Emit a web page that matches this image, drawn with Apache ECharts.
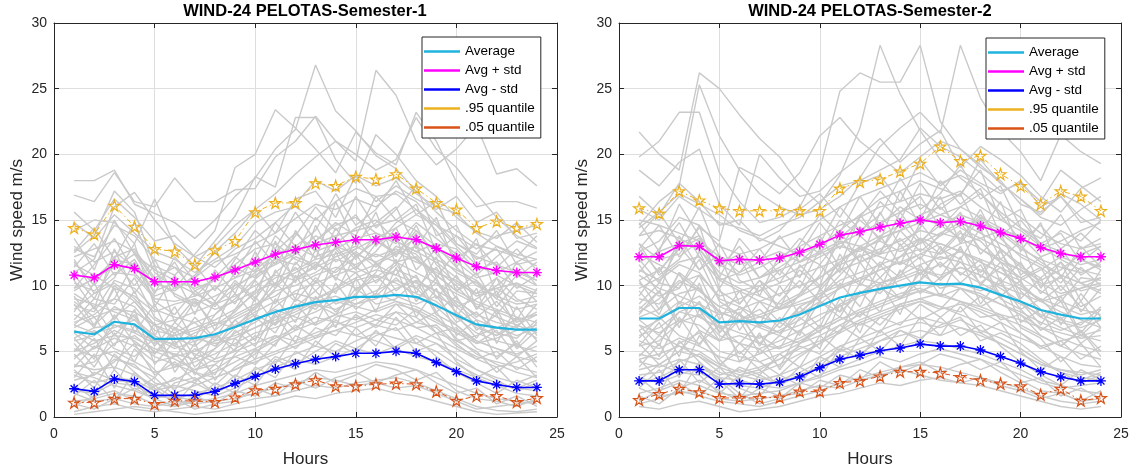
<!DOCTYPE html>
<html>
<head>
<meta charset="utf-8">
<script src="https://cdn.jsdelivr.net/npm/echarts/dist/echarts.min.js"></script>
<style>
html, body { margin: 0; padding: 0; background: #fff; }
#chart { width: 1137px; height: 473px; }
</style>
</head>
<body>
<div id="chart"></div>
<script>
var hours = [1,2,3,4,5,6,7,8,9,10,11,12,13,14,15,16,17,18,19,20,21,22,23,24];
var titles = ['WIND-24 PELOTAS-Semester-1', 'WIND-24 PELOTAS-Semester-2'];

// semester 1 summary curves
var avg1   = [6.5,6.3,7.25,7.05,5.95,5.95,6.0,6.3,6.85,7.45,8.0,8.4,8.75,8.9,9.15,9.15,9.3,9.15,8.5,7.75,7.05,6.8,6.65,6.65];
var plus1  = [10.8,10.6,11.6,11.3,10.3,10.3,10.3,10.65,11.2,11.8,12.4,12.75,13.1,13.3,13.5,13.5,13.7,13.5,12.85,12.1,11.45,11.15,11.0,11.0];
var minus1 = [2.15,1.95,2.9,2.7,1.65,1.65,1.65,1.95,2.55,3.1,3.65,4.05,4.4,4.6,4.85,4.85,5.0,4.85,4.15,3.45,2.75,2.45,2.25,2.25];
var q95_1  = [14.4,13.9,16.1,14.5,12.8,12.6,11.6,12.7,13.4,15.6,16.3,16.3,17.8,17.6,18.3,18.1,18.5,17.4,16.3,15.8,14.4,14.9,14.4,14.7];
var q05_1  = [1.1,1.1,1.4,1.4,1.0,1.25,1.2,1.15,1.5,2.05,2.15,2.5,2.8,2.35,2.35,2.5,2.55,2.5,1.95,1.25,1.6,1.6,1.15,1.45];

// semester 2 summary curves
var avg2   = [7.5,7.5,8.3,8.3,7.2,7.3,7.2,7.35,7.8,8.45,9.1,9.45,9.75,10.0,10.25,10.1,10.15,9.85,9.3,8.8,8.15,7.8,7.5,7.5];
var plus2  = [12.2,12.2,13.05,13.0,11.9,12.0,11.95,12.1,12.55,13.15,13.85,14.1,14.45,14.75,15.0,14.8,14.9,14.55,14.05,13.6,12.9,12.45,12.2,12.2];
var minus2 = [2.75,2.75,3.6,3.6,2.5,2.55,2.5,2.65,3.05,3.75,4.4,4.7,5.05,5.25,5.55,5.4,5.4,5.1,4.6,4.1,3.45,3.05,2.75,2.75];
var q95_2  = [15.9,15.5,17.2,16.5,15.9,15.7,15.7,15.7,15.7,15.7,17.4,17.9,18.1,18.7,19.3,20.6,19.5,19.9,18.5,17.6,16.2,17.2,16.8,15.7];
var q05_2  = [1.3,1.75,2.15,1.9,1.45,1.45,1.45,1.5,1.95,1.95,2.6,2.75,3.1,3.45,3.45,3.35,3.05,2.8,2.55,2.35,1.7,2.15,1.25,1.45];

// daily profiles (gray), semester 1
var days1 = [
  [18.0,18.0,18.8,16.2,15.5,14.8,13.6,15.0,16.8,18.2,20.4,21.9,26.8,23.3,21.8,19.9,18.9,17.2,15.6,14.2,13.1,12.7,12.2,11.5],
  [16.9,16.4,18.6,16.4,16.0,18.2,16.4,16.4,17.3,17.4,19.8,21.0,22.9,21.0,19.5,26.4,24.5,21.0,19.2,20.4,22.2,18.5,18.9,17.6],
  [12.5,13.8,17.2,15.6,11.5,10.8,12.4,14.2,19.0,20.0,23.4,22.0,20.4,18.6,21.7,20.1,19.2,23.2,21.0,17.9,16.0,16.4,16.4,15.9],
  [14.2,15.0,14.8,13.2,16.6,13.0,11.5,13.4,15.3,18.3,17.5,22.8,22.8,19.6,17.8,21.5,20.0,18.0,16.8,15.2,14.1,13.6,14.8,13.3],
  [9.8,10.5,12.0,11.6,10.2,9.6,10.8,12.6,14.0,15.8,17.0,18.5,19.8,21.0,20.0,18.8,19.6,22.8,20.4,19.0,17.0,15.2,13.8,12.9],
  [11.0,12.0,16.0,17.1,15.0,13.2,12.2,11.4,12.8,13.6,14.8,16.2,18.0,17.2,18.4,17.6,18.2,17.0,16.0,15.5,14.0,13.0,12.4,12.0],
  [12.8,12.2,14.6,13.8,12.0,11.4,10.6,11.8,12.4,13.2,14.0,15.1,16.2,15.8,16.6,16.0,17.2,16.4,14.8,13.2,12.2,11.6,11.0,10.4],
  [8.5,8.0,10.4,9.8,8.2,7.6,7.2,7.8,9.0,10.5,11.8,12.6,13.2,13.8,14.2,14.6,15.0,14.2,13.0,11.4,10.0,9.2,8.6,8.8],
  [10.2,9.6,11.0,10.8,9.0,8.8,9.2,9.8,10.6,11.2,12.4,13.0,12.2,12.8,13.6,14.0,13.4,12.6,11.8,10.6,9.4,9.8,10.2,9.6],
  [7.2,7.8,9.0,8.4,6.6,6.2,6.8,7.4,8.2,9.4,10.6,11.2,12.0,12.4,13.0,12.2,12.8,12.0,10.8,9.6,8.8,8.2,7.6,7.2],
  [13.0,11.8,12.6,11.4,9.6,10.2,9.4,8.6,9.8,11.0,12.0,11.6,13.4,14.6,15.2,14.0,13.2,14.8,13.6,12.4,10.8,12.2,13.4,12.8],
  [5.8,6.2,7.6,8.8,7.0,6.0,5.4,6.6,7.8,8.6,9.2,10.4,11.6,11.0,12.2,13.4,12.6,11.8,11.2,10.0,8.4,7.6,7.0,6.4],
  [9.0,8.6,8.0,7.4,5.8,5.6,6.4,7.0,7.6,8.4,9.6,10.0,10.8,11.4,11.0,11.6,12.4,13.0,12.0,11.2,10.4,9.0,8.2,8.6],
  [6.6,5.8,6.2,6.0,5.2,4.8,4.4,5.2,6.4,7.2,8.4,9.6,10.2,10.8,11.4,10.6,11.8,12.2,10.4,8.6,7.4,6.8,6.2,6.8],
  [4.6,5.2,6.0,5.4,4.2,4.6,5.0,5.8,6.2,6.8,7.6,8.2,9.0,9.6,10.4,10.8,10.2,9.4,8.8,7.6,6.4,5.8,5.4,5.0],
  [11.6,10.8,9.8,9.2,8.0,8.6,9.0,8.2,8.8,9.6,10.2,11.0,11.8,10.6,9.8,10.4,11.2,10.6,9.2,8.4,9.0,10.0,11.2,10.4],
  [7.8,7.0,8.4,7.6,6.0,5.2,5.8,6.2,7.0,8.0,8.8,9.4,9.0,9.8,10.6,11.2,10.8,10.2,9.6,8.8,7.8,7.2,6.8,6.0],
  [3.8,4.2,5.6,6.2,5.0,4.4,3.6,4.0,5.2,6.0,7.2,7.8,8.6,8.2,9.0,9.6,10.4,9.8,8.4,7.0,5.8,5.2,4.6,4.2],
  [8.2,9.4,10.2,9.0,7.4,6.8,6.0,5.6,6.0,6.8,7.4,8.0,8.8,9.2,8.6,9.0,9.8,10.4,9.6,8.0,6.8,6.2,7.0,7.8],
  [5.2,4.6,5.0,4.2,3.4,3.8,4.2,4.8,5.6,6.4,6.8,7.4,8.0,8.8,8.4,8.0,8.6,8.2,7.4,6.6,5.8,5.2,4.8,5.4],
  [6.0,6.8,7.0,6.4,5.6,6.2,6.6,7.2,6.8,7.4,8.2,7.6,7.0,7.8,8.6,9.4,8.8,8.0,7.2,6.4,5.6,6.0,6.6,7.0],
  [2.8,3.2,4.4,4.0,2.6,2.2,2.8,3.4,4.2,5.0,5.8,6.6,7.2,7.8,7.4,8.2,8.8,8.4,7.6,6.0,4.8,4.0,3.4,3.0],
  [4.0,3.6,3.8,3.2,2.4,2.8,3.6,4.4,5.0,5.6,6.2,5.8,6.4,7.0,7.6,7.0,6.6,7.2,6.8,5.4,4.6,4.2,3.8,3.4],
  [7.0,6.4,6.8,7.4,6.2,5.4,4.8,4.2,4.6,5.2,6.0,6.8,7.6,7.2,6.8,7.4,8.0,7.6,6.4,5.8,6.2,6.8,7.4,7.8],
  [2.0,1.8,2.6,2.4,1.6,1.4,1.8,2.2,2.8,3.6,4.2,4.8,5.4,5.0,5.8,6.4,6.0,5.6,5.0,4.0,3.2,2.6,2.2,2.0],
  [3.2,2.6,3.0,2.8,2.0,2.4,2.0,1.6,2.2,3.0,3.8,4.4,4.0,4.6,5.2,4.8,5.4,6.2,5.6,4.4,3.6,3.0,2.6,3.2],
  [1.2,1.4,1.8,1.6,1.0,0.8,1.2,1.4,1.8,2.4,2.8,3.2,3.6,3.4,3.8,4.2,4.0,3.6,3.0,2.4,1.8,1.4,1.2,1.0],
  [0.4,0.8,1.0,0.6,0.4,0.6,0.8,0.6,1.0,1.4,1.6,2.0,2.4,2.2,2.6,2.8,3.0,2.6,2.0,1.4,0.8,0.5,0.4,0.6],
  [1.8,1.2,1.4,1.0,0.8,1.2,1.0,1.2,1.4,1.8,2.2,2.6,3.0,2.8,2.4,2.6,2.2,2.4,1.8,1.2,0.6,0.8,1.0,1.2],
  [0.2,0.4,0.6,0.8,0.6,0.4,0.2,0.4,0.6,0.8,1.2,1.6,1.4,1.8,2.0,2.2,1.8,1.6,1.2,0.8,0.4,0.2,0.3,0.4],
  [9.6,10.6,11.4,12.4,11.2,10.4,9.8,10.4,11.6,12.8,13.2,12.0,11.4,12.2,12.8,13.6,14.4,15.4,14.6,13.0,11.6,10.8,10.0,9.4],
  [5.0,5.6,6.6,5.8,4.6,4.0,3.4,3.0,3.6,4.4,5.0,5.6,6.2,6.6,7.2,7.8,7.4,6.8,6.0,5.2,4.4,3.8,4.2,4.8],
  [12.2,12.8,13.4,12.6,10.4,9.4,8.6,9.2,10.0,10.8,11.6,12.4,13.8,13.0,12.4,11.8,12.6,13.6,12.8,11.8,10.6,11.0,11.8,12.6],
  [3.4,3.0,2.4,2.0,1.4,1.8,2.4,3.0,3.6,4.2,4.8,5.4,6.0,6.6,6.2,5.8,5.2,4.6,4.2,3.6,3.0,2.4,1.8,1.6],
  [8.8,7.6,8.2,8.0,7.0,7.4,8.0,8.6,9.2,10.0,10.8,10.4,11.0,12.0,11.6,12.4,11.8,11.0,10.2,9.4,8.6,8.0,7.4,7.8],
  [14.8,13.6,15.4,14.0,12.6,12.0,11.0,12.0,13.0,14.8,15.6,16.0,15.0,16.4,17.4,16.8,17.0,15.8,14.6,13.8,12.8,13.8,14.2,14.6],
  [6.8,7.6,5.4,8.2,4.0,5.8,3.2,6.4,5.0,9.2,7.0,10.8,8.4,12.6,9.6,11.0,13.8,9.4,12.2,7.6,9.8,5.6,8.4,6.2],
  [10.4,8.2,12.8,9.4,11.6,7.2,9.0,6.6,10.2,8.8,13.4,10.2,14.6,11.8,12.8,15.6,11.6,14.0,10.6,12.6,8.2,10.6,7.4,9.8],
  [3.0,4.8,2.2,5.2,3.6,2.0,4.6,3.2,6.0,4.4,7.8,5.6,9.2,6.8,10.6,8.0,11.4,7.6,9.8,6.2,7.4,4.4,5.8,3.8],
  [12.0,9.4,10.6,13.2,8.4,10.8,7.8,11.2,9.4,12.6,10.0,14.2,12.0,16.4,13.2,14.8,16.0,12.8,15.2,11.4,13.6,9.2,11.8,10.0],
  [5.6,3.8,6.4,4.2,7.2,3.4,5.6,2.8,4.8,6.2,5.4,8.6,7.0,10.2,8.2,9.4,12.0,8.8,10.6,7.8,6.0,8.2,5.4,7.2],
  [8.0,10.2,7.4,9.6,6.2,8.4,5.6,7.8,9.4,7.6,11.2,9.0,12.8,10.4,13.6,11.6,10.8,13.2,9.0,10.8,8.2,9.6,6.8,8.6],
  [1.6,2.8,1.2,3.4,2.2,1.0,2.6,1.8,3.2,2.4,4.4,3.6,5.8,4.6,6.8,5.4,7.6,5.6,6.4,4.2,3.0,3.8,2.2,2.8],
  [13.6,11.2,15.0,12.4,10.0,11.8,9.2,10.6,12.2,11.0,13.8,12.4,15.2,13.6,16.8,14.4,15.8,17.6,13.8,14.6,11.6,13.0,12.2,13.8],
  [4.4,6.0,3.6,7.0,4.8,6.4,3.8,5.2,7.4,5.8,9.0,7.2,10.4,8.6,9.2,11.8,9.6,10.8,8.0,9.2,6.6,7.8,5.2,6.6],
  [9.2,7.0,9.8,6.4,8.6,5.4,7.6,6.0,8.2,10.4,8.6,11.8,10.2,13.0,11.4,12.6,14.4,11.2,12.8,9.6,11.0,8.4,10.2,8.8],
  [2.4,1.4,3.6,2.0,3.0,1.6,1.2,2.6,1.8,3.8,3.0,5.0,4.2,5.6,4.8,6.6,5.2,6.0,4.6,3.4,2.6,1.8,2.8,2.2],
  [7.4,9.0,8.6,10.6,7.6,6.6,8.8,7.0,8.0,9.6,12.2,10.6,11.4,13.6,12.0,13.8,12.2,14.6,11.6,10.2,9.4,10.6,9.0,8.2],
  [11.4,13.2,10.8,12.0,9.4,12.2,10.4,8.8,11.0,13.4,11.6,13.8,16.0,14.2,15.4,13.0,14.8,15.8,14.2,12.0,13.2,11.4,12.8,11.2],
  [6.0,4.4,7.8,5.6,4.8,6.8,4.6,6.2,5.4,7.6,6.4,9.0,8.2,9.8,11.0,9.2,10.6,9.0,10.2,8.4,7.0,6.2,7.6,5.8],
  [0.8,1.6,2.0,1.2,2.4,1.4,0.6,1.0,2.0,1.6,2.6,2.2,3.4,2.6,3.2,4.0,3.6,2.8,3.4,2.0,1.4,1.2,0.8,1.4],
  [9.8,11.6,13.6,11.0,9.2,9.8,11.6,9.6,12.0,14.2,12.8,15.6,13.4,14.8,13.8,16.8,15.0,16.2,12.6,13.8,12.0,12.8,10.6,11.8],
  [3.6,2.2,4.8,3.4,2.0,3.0,2.6,4.0,3.0,5.2,4.0,6.2,5.4,7.4,6.2,7.0,8.6,7.2,8.0,5.8,5.0,3.4,4.6,3.0],
  [7.0,8.4,6.2,7.8,5.4,7.2,6.0,8.8,6.8,8.4,10.2,8.8,10.6,9.4,12.4,10.2,11.6,9.8,11.4,9.0,7.6,8.8,7.2,8.0],
  [15.6,14.2,16.6,15.2,13.4,13.8,12.2,13.0,14.6,15.8,14.0,16.6,17.2,15.2,18.4,16.4,17.6,16.6,15.8,16.8,14.8,15.6,13.6,14.0],
  [5.0,6.6,5.2,4.6,6.0,3.8,5.2,4.4,6.6,5.4,8.0,6.6,8.6,7.8,9.8,8.6,9.0,10.4,7.8,7.0,5.6,6.6,4.6,5.8],
  [10.8,9.0,11.8,10.0,12.0,9.2,8.4,10.0,8.6,11.6,9.8,12.6,11.2,14.4,12.2,13.4,12.4,14.2,12.4,11.0,10.2,9.0,10.8,10.0],
  [2.2,3.4,2.8,2.6,1.2,2.6,3.0,1.8,2.6,3.2,4.6,4.0,5.0,5.8,5.2,6.2,6.8,5.0,5.6,4.8,3.6,2.8,2.0,2.6],
  [8.6,6.8,10.0,8.8,7.0,6.4,7.2,5.8,7.4,8.2,9.8,11.4,9.6,11.2,12.6,11.4,13.0,12.4,10.8,9.6,10.4,7.8,9.6,9.4],
  [12.6,14.4,12.0,14.8,11.0,9.8,10.6,12.6,10.6,12.0,14.8,13.0,14.2,17.0,14.6,15.8,18.0,15.4,16.4,13.2,12.4,14.2,11.6,12.0],
  [4.8,3.2,4.2,5.6,3.2,4.2,2.8,3.6,4.6,4.0,5.6,7.0,6.0,7.6,8.0,7.4,7.0,8.2,6.4,6.8,5.2,4.6,5.6,4.2],
  [6.4,5.2,7.0,6.6,5.8,4.6,6.2,5.4,6.8,7.8,7.0,8.4,9.6,8.0,9.4,10.8,9.2,8.6,9.2,7.2,8.0,6.4,6.0,7.4],
  [1.0,0.6,1.4,2.2,1.4,0.8,1.6,1.0,1.2,2.2,1.6,2.8,2.2,3.0,3.4,2.6,3.2,3.6,2.6,1.8,2.2,1.0,1.6,0.8],
  [11.8,10.0,12.2,12.8,10.6,11.4,9.6,10.4,11.4,10.6,12.6,14.0,12.6,13.2,14.4,15.0,13.4,12.6,13.2,12.8,11.2,11.8,9.8,10.8],
  [3.8,5.4,4.6,3.8,3.0,4.8,3.4,2.4,3.8,4.8,6.2,5.2,6.8,6.2,7.8,6.8,8.0,6.8,7.0,5.6,4.4,5.0,3.6,4.6],
  [9.4,8.4,9.0,11.8,8.8,7.8,9.6,8.4,10.4,9.0,11.0,12.2,11.6,12.8,11.2,13.2,14.0,12.0,11.0,10.4,9.2,9.8,8.8,9.2]
];

// daily profiles (gray), semester 2
var days2 = [
  [21.7,20.0,18.8,26.2,25.0,23.0,21.2,19.8,17.6,16.2,18.4,22.0,28.3,24.6,21.8,19.6,18.2,17.0,15.6,14.4,13.2,12.6,12.0,11.4],
  [19.8,21.0,23.2,23.2,18.6,16.4,14.8,15.2,16.0,18.8,24.8,26.2,25.5,25.5,28.3,22.5,20.4,19.2,17.8,16.6,15.4,17.0,16.2,15.0],
  [14.6,16.4,17.6,25.3,21.4,18.8,17.0,16.0,15.4,15.8,16.8,18.2,20.6,22.0,23.2,21.6,28.3,24.3,21.8,20.2,18.0,21.5,20.2,19.3],
  [18.8,17.6,19.4,20.4,16.2,14.6,20.0,18.2,16.8,17.2,18.6,19.8,21.2,19.4,20.8,21.8,19.0,20.6,19.6,18.4,16.8,15.6,17.4,18.2],
  [15.8,15.0,16.8,15.8,14.8,14.4,13.8,14.6,15.2,16.4,17.6,18.0,18.8,19.6,22.0,20.6,19.8,18.6,17.2,17.8,16.4,18.8,17.6,16.4],
  [12.6,13.4,15.2,14.6,13.0,12.4,12.8,13.6,14.2,15.0,16.0,16.8,17.4,18.0,18.6,17.8,18.4,17.6,16.2,15.2,14.0,13.2,12.8,13.6],
  [10.4,11.2,12.8,13.6,11.6,10.8,11.4,12.2,13.0,13.8,14.6,15.2,16.0,16.4,17.0,16.6,17.2,16.0,15.0,14.2,13.0,12.0,11.2,10.8],
  [9.0,8.6,10.2,10.8,9.2,9.6,10.0,10.6,11.4,12.2,13.0,12.6,13.6,14.2,14.8,15.4,14.8,14.0,13.2,12.4,11.6,10.8,10.2,9.6],
  [13.8,14.2,13.6,12.8,10.6,9.8,9.2,8.6,9.4,10.6,11.8,12.8,13.4,12.6,13.2,14.0,13.6,12.8,12.0,11.2,10.4,11.2,12.4,13.0],
  [7.6,8.2,9.4,9.8,8.0,7.4,7.8,8.4,9.2,10.0,11.2,11.8,12.4,12.8,13.6,13.2,12.6,12.0,11.4,10.6,9.6,8.8,8.2,7.8],
  [11.2,10.4,11.6,11.0,9.0,8.4,7.6,7.2,8.0,9.2,10.4,11.0,11.6,12.2,12.8,12.4,13.2,13.6,12.8,11.6,10.2,9.4,9.8,10.6],
  [6.2,6.8,8.0,8.6,7.0,6.4,6.0,6.6,7.4,8.6,9.8,10.6,11.2,11.8,12.4,12.0,12.6,11.8,11.0,10.0,8.8,8.0,7.4,6.8],
  [8.4,7.6,8.8,8.2,6.8,7.2,7.6,8.2,8.8,9.4,10.0,10.6,10.2,10.8,11.6,12.2,11.8,11.2,10.4,9.8,9.0,8.4,7.8,8.2],
  [5.4,5.8,7.2,7.8,6.2,5.6,5.2,5.8,6.6,7.4,8.6,9.4,10.2,10.6,11.2,10.8,11.4,10.8,9.8,8.8,7.6,6.8,6.2,5.8],
  [12.4,11.6,10.8,9.6,8.4,9.0,9.6,10.2,10.8,11.4,12.0,12.8,12.2,11.6,12.4,13.2,12.6,11.8,11.0,10.4,11.2,12.2,11.6,12.0],
  [4.8,4.4,5.6,6.4,5.0,4.6,4.2,4.8,5.6,6.6,7.4,8.2,8.8,9.4,9.8,9.2,9.8,9.4,8.6,7.8,6.8,6.0,5.4,5.0],
  [9.8,10.6,11.8,12.2,10.4,9.6,8.8,8.2,8.6,9.0,9.8,10.4,11.2,11.8,11.2,10.6,11.4,10.8,10.0,9.4,8.8,9.2,9.8,10.2],
  [3.6,4.0,5.0,4.6,3.4,3.0,3.4,4.0,4.8,5.6,6.4,7.2,7.8,8.4,8.8,8.2,8.6,8.0,7.2,6.4,5.4,4.6,4.0,3.8],
  [7.0,6.4,7.4,7.0,5.8,6.2,5.6,5.2,5.8,6.6,7.4,8.0,8.6,9.2,9.6,10.2,9.8,9.2,8.6,8.0,7.2,6.6,7.2,7.6],
  [2.6,3.0,3.8,3.4,2.6,2.4,2.2,2.8,3.4,4.2,5.0,5.6,6.2,6.8,7.2,6.8,7.4,6.6,6.0,5.2,4.2,3.4,3.0,2.8],
  [5.8,5.2,6.0,5.4,4.6,4.2,4.8,5.4,6.0,6.8,7.6,7.0,7.6,8.2,8.8,8.4,7.8,7.2,6.6,6.0,5.4,5.8,6.2,6.6],
  [1.8,2.2,2.8,2.4,1.8,1.6,1.8,2.0,2.6,3.2,3.8,4.4,5.0,5.4,5.8,5.6,5.2,4.8,4.2,3.6,2.8,2.4,2.0,1.8],
  [4.2,3.8,4.4,4.0,3.2,3.6,3.0,2.6,3.2,3.8,4.6,5.2,5.8,6.2,6.6,6.2,6.8,6.4,5.6,4.8,4.0,3.6,3.2,3.6],
  [1.0,1.4,2.0,1.6,1.2,1.0,0.8,1.2,1.6,2.0,2.6,3.0,3.4,3.8,4.0,3.8,3.4,3.0,2.6,2.2,1.6,1.2,1.0,1.2],
  [0.8,0.6,1.0,1.2,0.8,0.4,0.6,0.8,1.2,1.6,1.8,2.2,2.6,2.4,2.8,3.0,2.6,2.4,2.0,1.6,1.2,0.8,0.6,0.8],
  [2.2,1.6,1.8,2.0,1.4,1.2,1.4,1.6,2.0,2.4,2.2,2.8,3.2,3.6,3.2,2.8,2.6,3.0,2.4,2.0,1.4,1.8,1.2,1.4],
  [3.0,2.6,3.2,3.8,3.0,2.8,2.4,2.2,2.6,3.0,3.6,4.0,4.6,4.2,4.8,5.2,4.8,4.4,3.8,3.2,2.6,2.2,2.4,2.6],
  [8.0,9.0,10.4,9.6,8.4,7.8,7.0,6.4,7.0,7.8,8.4,9.2,9.8,10.4,11.0,11.6,11.0,10.2,9.4,8.6,7.8,7.2,6.8,7.4],
  [6.6,7.4,8.4,9.2,8.0,7.4,6.8,6.2,5.6,6.2,7.0,7.8,8.4,9.0,9.6,9.2,8.8,8.4,7.8,7.4,6.8,6.4,6.0,6.2],
  [10.8,9.8,9.2,8.6,7.8,8.2,8.8,9.4,10.0,10.6,11.6,12.2,12.8,13.4,14.2,13.8,14.6,15.0,14.2,13.0,11.8,10.8,10.2,10.6],
  [15.0,14.6,14.0,13.4,12.2,11.6,12.0,12.6,11.8,12.4,13.2,14.0,14.8,15.6,16.2,15.4,16.0,15.2,14.4,13.6,12.8,13.4,14.2,14.8],
  [4.4,4.8,5.4,5.0,4.0,3.4,3.8,4.4,5.2,5.8,6.6,7.4,8.0,8.6,9.0,9.4,8.8,8.2,7.6,7.0,6.2,5.4,4.8,4.4],
  [11.8,12.6,13.2,12.8,11.0,10.2,10.6,11.2,11.8,12.6,13.4,13.0,13.8,14.6,15.2,14.6,15.4,14.8,14.0,12.8,12.0,11.4,11.0,11.6],
  [3.2,3.4,4.2,4.8,3.8,3.2,2.8,3.2,3.8,4.6,5.4,6.0,6.6,7.2,7.6,7.2,6.8,6.2,5.6,4.8,4.0,3.6,3.4,3.2],
  [14.4,15.6,17.0,16.2,15.4,14.2,13.6,13.0,12.4,13.0,14.2,15.4,16.6,17.2,18.0,17.4,16.8,19.6,17.8,16.6,15.2,14.6,15.8,16.8],
  [13.2,12.0,12.4,14.4,13.4,19.0,18.2,17.0,18.6,21.4,22.8,21.0,19.8,18.6,19.8,21.0,20.4,19.0,18.0,16.2,15.6,16.8,15.2,14.2],
  [7.8,9.6,6.8,10.2,6.4,8.0,5.4,7.6,6.2,9.8,8.0,11.8,9.6,13.2,10.8,12.6,14.2,10.6,12.8,9.0,10.6,7.0,9.4,7.6],
  [11.6,9.4,13.8,11.2,12.4,8.6,10.4,8.2,11.6,10.0,14.2,11.8,15.6,13.0,14.4,16.8,13.2,15.2,12.0,13.4,9.8,11.8,8.8,11.2],
  [3.8,5.6,3.0,6.2,4.4,2.8,5.2,3.8,6.6,5.2,8.6,6.4,10.2,7.8,11.6,9.2,12.2,8.6,10.6,7.2,8.2,5.4,6.6,4.6],
  [13.2,10.8,12.0,14.6,9.8,12.2,9.2,12.4,10.6,13.8,11.4,15.4,13.4,17.2,14.6,16.2,17.0,14.0,16.4,12.6,14.8,10.6,13.0,11.4],
  [6.6,4.6,7.6,5.4,8.2,4.2,6.4,3.6,5.6,7.0,6.4,9.6,8.0,11.2,9.4,10.6,13.0,10.0,11.8,8.8,7.0,9.2,6.4,8.2],
  [9.2,11.4,8.6,10.8,7.4,9.6,6.8,8.8,10.4,8.8,12.4,10.2,13.8,11.6,14.8,12.8,12.0,14.4,10.2,11.8,9.4,10.8,8.0,9.8],
  [2.2,3.6,1.8,4.2,2.8,1.4,3.2,2.4,3.8,3.0,5.2,4.4,6.6,5.4,7.6,6.2,8.4,6.4,7.2,5.0,3.6,4.6,2.8,3.4],
  [14.8,12.6,16.2,13.8,11.4,13.0,10.6,11.8,13.6,12.4,15.0,13.8,16.4,15.0,17.8,15.8,17.0,18.8,15.0,15.8,12.8,14.2,13.4,15.0],
  [5.4,7.2,4.6,8.2,5.8,7.4,4.8,6.2,8.4,6.8,10.2,8.4,11.6,9.8,10.4,13.0,10.8,12.0,9.2,10.4,7.6,8.8,6.2,7.6],
  [10.4,8.2,11.0,7.6,9.8,6.6,8.8,7.2,9.4,11.6,9.8,13.0,11.4,14.2,12.6,13.8,15.6,12.4,14.0,10.8,12.2,9.6,11.4,10.0],
  [3.0,1.8,4.4,2.6,3.8,2.2,1.6,3.2,2.4,4.6,3.8,6.0,5.0,6.6,5.8,7.6,6.2,7.0,5.4,4.2,3.2,2.4,3.6,2.8],
  [8.6,10.2,9.8,12.0,8.8,7.8,10.0,8.2,9.2,10.8,13.4,11.8,12.6,14.8,13.2,15.0,13.4,15.8,12.8,11.4,10.6,11.8,10.2,9.4],
  [12.8,14.6,12.2,13.4,10.6,13.6,11.8,10.2,12.4,14.8,12.8,15.2,17.2,15.6,16.8,14.4,16.0,17.0,15.4,13.4,14.6,12.8,14.0,12.6],
  [7.0,5.4,8.8,6.6,5.8,7.8,5.6,7.2,6.4,8.8,7.6,10.2,9.4,11.0,12.2,10.4,11.8,10.2,11.4,9.6,8.2,7.4,8.8,6.8],
  [1.2,2.0,2.6,1.6,3.0,1.8,1.0,1.4,2.6,2.2,3.2,2.8,4.2,3.4,4.0,4.8,4.4,3.6,4.2,2.8,2.0,1.8,1.2,2.0],
  [11.0,12.8,14.8,12.2,10.4,11.0,12.8,10.8,13.2,15.4,14.0,16.8,14.6,16.0,15.0,18.0,16.2,17.4,13.8,15.0,13.2,14.0,11.8,13.0],
  [4.4,2.8,5.8,4.2,2.6,3.8,3.2,4.8,3.8,6.2,5.0,7.2,6.4,8.6,7.4,8.2,9.8,8.4,9.2,6.8,6.0,4.2,5.6,3.8],
  [8.2,9.6,7.2,8.8,6.4,8.4,7.0,10.0,7.8,9.6,11.4,10.0,11.8,10.6,13.6,11.4,12.8,11.0,12.6,10.2,8.8,10.0,8.4,9.2],
  [16.8,15.4,17.8,16.4,14.6,15.0,13.4,14.2,15.8,17.0,15.2,17.8,18.4,16.4,19.6,17.6,18.8,17.8,17.0,18.0,16.0,16.8,14.8,15.2],
  [6.0,7.6,6.2,5.6,7.0,4.8,6.2,5.2,7.6,6.4,9.0,7.6,9.8,9.0,11.0,9.8,10.2,11.6,9.0,8.2,6.6,7.6,5.6,6.8],
  [12.0,10.2,13.0,11.2,13.2,10.4,9.6,11.2,9.8,12.8,11.0,13.8,12.4,15.6,13.4,14.6,13.6,15.4,13.6,12.2,11.4,10.2,12.0,11.2],
  [2.8,4.0,3.4,3.2,1.8,3.2,3.6,2.4,3.2,3.8,5.4,4.8,5.8,6.6,6.0,7.0,7.6,5.8,6.4,5.6,4.4,3.4,2.6,3.2],
  [9.6,7.8,11.0,9.8,8.0,7.4,8.2,6.8,8.4,9.2,10.8,12.4,10.6,12.2,13.6,12.4,14.0,13.4,11.8,10.6,11.4,8.8,10.6,10.4],
  [13.8,15.6,13.2,16.0,12.2,11.0,11.8,13.8,11.8,13.2,16.0,14.2,15.4,18.2,15.8,17.0,19.2,16.6,17.6,14.4,13.6,15.4,12.8,13.2],
  [5.6,4.0,5.0,6.6,4.0,5.0,3.6,4.4,5.4,4.8,6.6,8.0,7.0,8.6,9.0,8.4,8.0,9.2,7.4,7.8,6.2,5.4,6.6,5.0],
  [7.4,6.2,8.0,7.6,6.8,5.6,7.2,6.4,7.8,8.8,8.0,9.4,10.6,9.0,10.4,11.8,10.2,9.6,10.2,8.2,9.0,7.4,7.0,8.4],
  [1.6,1.0,2.2,2.8,2.0,1.2,2.2,1.6,1.8,2.8,2.4,3.6,3.0,3.8,4.2,3.4,4.0,4.4,3.4,2.6,3.0,1.6,2.2,1.4],
  [12.8,11.0,13.2,13.8,11.6,12.4,10.6,11.4,12.4,11.6,13.6,15.0,13.6,14.2,15.4,16.0,14.4,13.6,14.2,13.8,12.2,12.8,10.8,11.8],
  [4.6,6.2,5.4,4.6,3.8,5.6,4.2,3.2,4.6,5.6,7.0,6.0,7.6,7.0,8.6,7.6,8.8,7.6,7.8,6.4,5.2,5.8,4.4,5.4],
  [10.2,9.2,9.8,12.6,9.6,8.6,10.4,9.2,11.2,9.8,11.8,13.0,12.4,13.6,12.0,14.0,14.8,12.8,11.8,11.2,10.0,10.6,9.6,10.0]
];

var FONT = 'Liberation Sans, Arial, Helvetica, sans-serif';
var AXIS_COLOR = '#262626';
var GRAY = '#cacaca';

var STAR = 'path://M0,-10L2.245,-3.09L9.511,-3.09L3.633,1.18L5.878,8.09L0,3.82L-5.878,8.09L-3.633,1.18L-9.511,-3.09L-2.245,-3.09Z';
var ASTER = 'path://M0,-10L0,10M-10,0L10,0M-7.07,-7.07L7.07,7.07M-7.07,7.07L7.07,-7.07';

var grids = [
  { left: 54, top: 23, width: 503, height: 395 },
  { left: 619, top: 23, width: 502, height: 395 }
];

function pairs(vals) {
  return hours.map(function (h, i) { return [h, vals[i]]; });
}

function xAxes(g) {
  var base = {
    type: 'value', gridIndex: g, min: 0, max: 25, interval: 5,
    axisLine: { show: true, onZero: false, lineStyle: { color: AXIS_COLOR, width: 1 } },
    axisTick: { show: true, inside: true, length: 5, lineStyle: { color: AXIS_COLOR } }
  };
  var bottom = Object.assign({}, base, {
    position: 'bottom',
    name: 'Hours', nameLocation: 'middle', nameGap: 34,
    nameTextStyle: { fontSize: 17, color: AXIS_COLOR, fontFamily: FONT },
    axisLabel: { fontSize: 14, color: AXIS_COLOR, fontFamily: FONT, margin: 10 },
    splitLine: { show: true, lineStyle: { color: '#dedede', width: 1 } }
  });
  var top = Object.assign({}, base, {
    position: 'top',
    axisLabel: { show: false },
    splitLine: { show: false }
  });
  return [bottom, top];
}

function yAxes(g) {
  var base = {
    type: 'value', gridIndex: g, min: 0, max: 30, interval: 5,
    axisLine: { show: true, onZero: false, lineStyle: { color: AXIS_COLOR, width: 1 } },
    axisTick: { show: true, inside: true, length: 5, lineStyle: { color: AXIS_COLOR } }
  };
  var left = Object.assign({}, base, {
    position: 'left',
    name: 'Wind speed m/s', nameLocation: 'middle', nameGap: 28,
    nameTextStyle: { fontSize: 17, color: AXIS_COLOR, fontFamily: FONT },
    axisLabel: { fontSize: 14, color: AXIS_COLOR, fontFamily: FONT, margin: 7 },
    splitLine: { show: true, lineStyle: { color: '#dedede', width: 1 } }
  });
  var right = Object.assign({}, base, {
    position: 'right',
    axisLabel: { show: false },
    splitLine: { show: false }
  });
  return [left, right];
}

function panelSeries(g, days, avg, plus, minus, q95, q05) {
  var xi = g * 2, yi = g * 2;
  var out = [];
  days.forEach(function (d) {
    out.push({
      type: 'line', xAxisIndex: xi, yAxisIndex: yi, data: pairs(d),
      symbol: 'none', silent: true, z: 2,
      lineStyle: { color: GRAY, width: 1.4 },
      emphasis: { disabled: true }
    });
  });
  out.push({
    name: 'Average', type: 'line', xAxisIndex: xi, yAxisIndex: yi, data: pairs(avg),
    symbol: 'none', z: 5,
    itemStyle: { color: '#1fb3de' },
    lineStyle: { color: '#1fb3de', width: 2.2 }
  });
  out.push({
    name: 'Avg + std', type: 'line', xAxisIndex: xi, yAxisIndex: yi, data: pairs(plus),
    symbol: ASTER, symbolSize: 10, z: 5,
    itemStyle: { color: '#ff00ff', borderColor: '#ff00ff', borderWidth: 1.3 },
    lineStyle: { color: '#ff00ff', width: 1.6 }
  });
  out.push({
    name: 'Avg - std', type: 'line', xAxisIndex: xi, yAxisIndex: yi, data: pairs(minus),
    symbol: ASTER, symbolSize: 10, z: 5,
    itemStyle: { color: '#0000ff', borderColor: '#0000ff', borderWidth: 1.3 },
    lineStyle: { color: '#0000ff', width: 1.6 }
  });
  out.push({
    name: '.95 quantile', type: 'line', xAxisIndex: xi, yAxisIndex: yi, data: pairs(q95),
    symbol: STAR, symbolSize: 11, z: 5,
    itemStyle: { color: 'rgba(255,255,255,0)', borderColor: '#EDB120', borderWidth: 1.2 },
    lineStyle: { color: '#EDB120', width: 1, type: [5, 3, 1.5, 3] }
  });
  out.push({
    name: '.05 quantile', type: 'line', xAxisIndex: xi, yAxisIndex: yi, data: pairs(q05),
    symbol: STAR, symbolSize: 11, z: 5,
    itemStyle: { color: 'rgba(255,255,255,0)', borderColor: '#D95319', borderWidth: 1.2 },
    lineStyle: { color: '#D95319', width: 1, type: [5, 3, 1.5, 3] }
  });
  return out;
}

var legendData = [
  { name: 'Average', itemStyle: { color: '#1fb3de', borderWidth: 0 } },
  { name: 'Avg + std', itemStyle: { color: '#ff00ff', borderWidth: 0 } },
  { name: 'Avg - std', itemStyle: { color: '#0000ff', borderWidth: 0 } },
  { name: '.95 quantile', itemStyle: { color: '#EDB120', borderWidth: 0 } },
  { name: '.05 quantile', itemStyle: { color: '#D95319', borderWidth: 0 } }
];

function legendAt(left, top) {
  return {
    data: legendData, orient: 'vertical', left: left, top: top,
    icon: 'rect', itemWidth: 36, itemHeight: 2.5, itemGap: 0,
    padding: [5, 6, 1, 2],
    backgroundColor: '#ffffff', borderColor: AXIS_COLOR, borderWidth: 1,
    selectedMode: false,
    textStyle: { fontSize: 13.5, color: '#000', fontFamily: FONT, lineHeight: 19 }
  };
}

var chart = echarts.init(document.getElementById('chart'), null, { renderer: 'canvas' });

var option = {
  animation: false,
  backgroundColor: '#ffffff',
  title: [
    { text: titles[0], left: 305, top: 3, textAlign: 'center', padding: 0,
      textStyle: { fontSize: 16.5, fontWeight: 'bold', color: '#000', fontFamily: FONT } },
    { text: titles[1], left: 870, top: 3, textAlign: 'center', padding: 0,
      textStyle: { fontSize: 16.5, fontWeight: 'bold', color: '#000', fontFamily: FONT } }
  ],
  legend: [legendAt(422, 37), legendAt(986, 38)],
  grid: grids,
  xAxis: xAxes(0).concat(xAxes(1)),
  yAxis: yAxes(0).concat(yAxes(1)),
  series: panelSeries(0, days1, avg1, plus1, minus1, q95_1, q05_1)
    .concat(panelSeries(1, days2, avg2, plus2, minus2, q95_2, q05_2))
};

chart.setOption(option);
</script>
</body>
</html>
